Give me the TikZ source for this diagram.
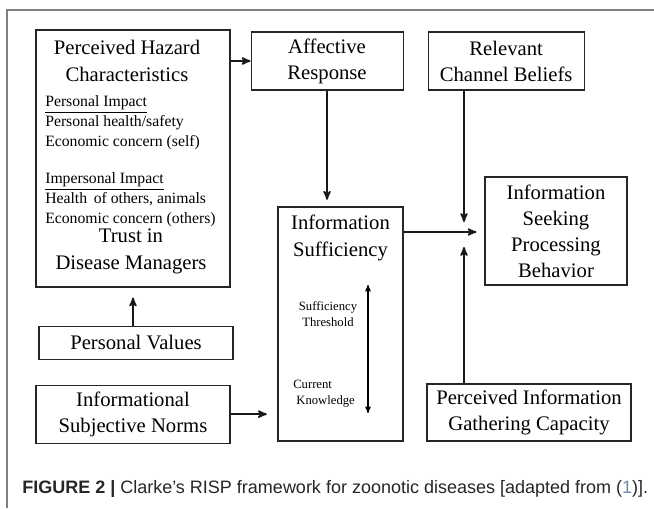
\documentclass[tikz,border=0pt]{standalone}
\usepackage{fontspec}
\setmainfont{Liberation Serif}
\newfontfamily\captionfont{Liberation Sans}
\usetikzlibrary{arrows, positioning}
\definecolor{citeblue}{HTML}{7088A8}
\tikzset{
    %Define standard arrow tip
    >=stealth',
    %Define style for boxes
    factor/.style={
           rectangle,
           draw=black!85, thick,
           fill=white,
           align=center,
           inner sep=0pt,
           font=\fontsize{15.5}{19.5}\selectfont},
    % Define arrow style
    influence/.style={
           ->,
           line width=1.3pt,
           draw=black!90}
}

\begin{document}
\begin{tikzpicture}[x=0.75pt, y=-0.75pt, auto]

% Styles for text inside boxes
\tikzstyle{heading}=[align=center, inner sep=0pt, font=\fontsize{15.5}{20}\selectfont]
\tikzstyle{items}=[align=left, anchor=west, inner sep=0pt, font=\fontsize{11.8}{15}\selectfont]
\tikzstyle{gauge}=[align=center, inner sep=0pt, font=\fontsize{9.5}{12}\selectfont]

\useasboundingbox (0,0) rectangle (654,508);
% Frame
\draw[black!50, line width=1.5pt] (654,10) -- (7,10) -- (7,508);

% Boxes
\node[factor, minimum width=145.5pt, minimum height=192.75pt] (hazard) at (133,158.5) {};
\node[factor, minimum width=114pt, minimum height=43.5pt] (affect) [right=15pt of hazard.north east, anchor=north west, yshift=-1.5pt] {Affective\\Response};
\node[factor, minimum width=117pt, minimum height=43.5pt] (channel) [right=18pt of affect] {Relevant\\Channel Beliefs};
\node[factor, minimum width=106.5pt, minimum height=81pt] (seeking) at (556,231) {Information\\Seeking\\Processing\\Behavior};
\node[factor, minimum width=93.75pt, minimum height=175.5pt] (suff) at (340.5,324) {};
\node[factor, minimum width=145.5pt, minimum height=24.75pt] (values) [below=28.5pt of hazard, xshift=2.25pt] {Personal Values};
\node[factor, minimum width=145.5pt, minimum height=43.5pt] (norms) [below=18.75pt of values, xshift=-2.25pt] {Informational\\Subjective Norms};
\node[factor, minimum width=153pt, minimum height=42.75pt] (capacity) at (529,412.5) {Perceived Information\\Gathering Capacity};

% Texts inside the hazard box
\node[heading] (hazardtitle) at (127,61) {Perceived Hazard\\Characteristics};
\node[items] (personal) at (45,123) {\underline{Personal Impact}\\Personal health/safety\\Economic concern (self)};
\node[items] (impersonal) at (45,200) {\underline{Impersonal Impact}\\Health\, of others, animals\\Economic concern (others)};
\node[heading] (trust) at (131,251.5) {Trust in\\Disease Managers};

% Texts inside the sufficiency box
\node[heading] (sufftitle) at (340.5,238) {Information\\Sufficiency};
\node[gauge] (threshold) at (328,314) {Sufficiency\\Threshold};
\node[gauge, align=left, anchor=west] (knowledge) at (293,393.5) {Current\\\hspace{0.25em}Knowledge};
\coordinate (upper) at (368,285);
\coordinate (lower) at (368,413);

% Meeting point of the arrows into the behaviour box
\coordinate (junction) at (464,232);

% Caption
\node[anchor=west, inner sep=0pt, text=black!85, font=\captionfont\fontsize{13.5}{16}\selectfont] (caption) at (22,489)
    {\textbf{FIGURE 2 |} Clarke’s RISP framework for zoonotic diseases [adapted from ({\color{citeblue}1})].};

\path
% arrows on the left
(hazard.east |- affect.west) edge[influence] (affect.west)
(hazard.south |- values.north) edge[influence, shorten >=7.5pt] (hazard.south)
(norms.east) edge[influence, shorten >=8pt] (norms.east -| suff.west)
(affect.south) edge[influence, shorten >=5pt] (affect.south |- suff.north)
% arrows into the behaviour box
(suff.east |- junction) edge[influence, shorten >=6pt] (seeking.west |- junction)
(junction |- channel.south) edge[influence, shorten >=7.5pt] (junction)
(junction |- capacity.north) edge[influence, shorten >=11.25pt] (junction)
% scale inside the sufficiency box
(upper) edge[<->, thick] (lower);

\end{tikzpicture}
\end{document}
